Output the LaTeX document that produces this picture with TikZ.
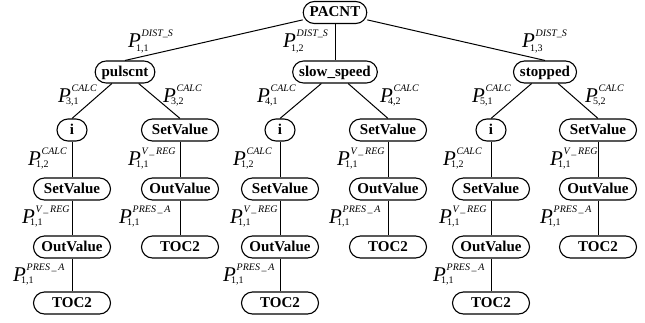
\documentclass[tikz,border=0pt]{standalone}
\usepackage{fontspec}
\setmainfont{Liberation Serif}
\newcommand\plab[3][2pt]{%
  \makebox[0pt][l]{\fontsize{21}{21}\selectfont\itshape P}%
  \makebox[0pt][l]{\hspace*{13.5pt}\raisebox{10.5pt}{\fontsize{10}{10}\selectfont\itshape #2}}%
  \hspace*{8pt}\raisebox{-#1}{\fontsize{10}{10}\selectfont #3}}
\tikzset{
  nd/.style={draw, rectangle, rounded corners=11pt, minimum height=22pt,
    inner xsep=6.5pt, inner ysep=0pt, text height=11pt, text depth=3pt,
    font=\fontsize{15}{15}\selectfont\bfseries, line width=1.1pt},
  wide/.style={nd, minimum width=77pt},
  small/.style={nd, minimum width=30pt},
  lab/.style={inner sep=0pt, anchor=base west},
  edge/.style={line width=1pt}
}
\begin{document}
\begin{tikzpicture}[x=1pt, y=-1pt]
\path[use as bounding box] (0,0) rectangle (645,322);
% level 0
\node[nd] (PACNT) at (335,12.5) {PACNT};
% level 1
\node[nd] (pul) at (125,72) {pulscnt};
\node[nd] (slo) at (335,72) {slow\_speed};
\node[nd] (sto) at (545,72) {stopped};
% level 2
\node[small] (ia) at (72,130) {i};
\node[wide] (sva) at (180,130) {SetValue};
\node[small] (ib) at (280,130) {i};
\node[wide] (svb) at (388,130) {SetValue};
\node[small] (ic) at (491,130) {i};
\node[wide] (svc) at (598,130) {SetValue};
% level 3
\node[wide] (sva3) at (72,189) {SetValue};
\node[wide] (ova3) at (180,189) {OutValue};
\node[wide] (svb3) at (280,189) {SetValue};
\node[wide] (ovb3) at (388,189) {OutValue};
\node[wide] (svc3) at (491,189) {SetValue};
\node[wide] (ovc3) at (598,189) {OutValue};
% level 4
\node[wide] (ova4) at (72,247) {OutValue};
\node[wide] (toa4) at (180,247) {TOC2};
\node[wide] (ovb4) at (280,247) {OutValue};
\node[wide] (tob4) at (388,247) {TOC2};
\node[wide] (ovc4) at (491,247) {OutValue};
\node[wide] (toc4) at (598,247) {TOC2};
% level 5
\node[wide] (toa5) at (72,303) {TOC2};
\node[wide] (tob5) at (280,303) {TOC2};
\node[wide] (toc5) at (491,303) {TOC2};
% edges
\draw[edge] (PACNT) -- (pul.north);
\draw[edge] (PACNT) -- (slo);
\draw[edge] (PACNT) -- (sto.north);
\draw[edge] (pul) -- (ia.north);
\draw[edge] (pul) -- (sva.north);
\draw[edge] (slo) -- (ib.north);
\draw[edge] (slo) -- (svb.north);
\draw[edge] (sto) -- (ic.north);
\draw[edge] (sto) -- (svc.north);
\draw[edge] (ia) -- (sva3);
\draw[edge] (sva) -- (ova3);
\draw[edge] (ib) -- (svb3);
\draw[edge] (svb) -- (ovb3);
\draw[edge] (ic) -- (svc3);
\draw[edge] (svc) -- (ovc3);
\draw[edge] (sva3) -- (ova4);
\draw[edge] (ova3) -- (toa4);
\draw[edge] (svb3) -- (ovb4);
\draw[edge] (ovb3) -- (tob4);
\draw[edge] (svc3) -- (ovc4);
\draw[edge] (ovc3) -- (toc4);
\draw[edge] (ova4) -- (toa5);
\draw[edge] (ovb4) -- (tob5);
\draw[edge] (ovc4) -- (toc5);
% labels level 0-1
\node[lab] (l01a) at (128,47) {\plab[4pt]{DIST\_S}{1,1}};
\node[lab] (l01b) at (283,47) {\plab[4pt]{DIST\_S}{1,2}};
\node[lab] (l01c) at (522,47) {\plab[4pt]{DIST\_S}{1,3}};
% labels level 1-2
\node[lab] (l12a) at (58,102) {\plab{CALC}{3,1}};
\node[lab] (l12b) at (163,102) {\plab{CALC}{3,2}};
\node[lab] (l12c) at (257,102) {\plab{CALC}{4,1}};
\node[lab] (l12d) at (380,102) {\plab{CALC}{4,2}};
\node[lab] (l12e) at (472,102) {\plab{CALC}{5,1}};
\node[lab] (l12f) at (585,102) {\plab{CALC}{5,2}};
% labels level 2-3
\node[lab] (l23a) at (28,165) {\plab{CALC}{1,2}};
\node[lab] (l23b) at (128,165) {\plab{V\,\_\,REG}{1,1}};
\node[lab] (l23c) at (233,165) {\plab{CALC}{1,2}};
\node[lab] (l23d) at (337,165) {\plab{V\,\_\,REG}{1,1}};
\node[lab] (l23e) at (443,165) {\plab{CALC}{1,2}};
\node[lab] (l23f) at (550,165) {\plab{V\,\_\,REG}{1,1}};
% labels level 3-4
\node[lab] (l34a) at (22,223) {\plab{V\,\_\,REG}{1,1}};
\node[lab] (l34b) at (119,223) {\plab{PRES\,\_\,A}{1,1}};
\node[lab] (l34c) at (230,223) {\plab{V\,\_\,REG}{1,1}};
\node[lab] (l34d) at (329,223) {\plab{PRES\,\_\,A}{1,1}};
\node[lab] (l34e) at (439,223) {\plab{V\,\_\,REG}{1,1}};
\node[lab] (l34f) at (540,223) {\plab{PRES\,\_\,A}{1,1}};
% labels level 4-5
\node[lab] (l45a) at (13,281) {\plab{PRES\,\_\,A}{1,1}};
\node[lab] (l45b) at (223,281) {\plab{PRES\,\_\,A}{1,1}};
\node[lab] (l45c) at (433,281) {\plab{PRES\,\_\,A}{1,1}};
\end{tikzpicture}
\end{document}
